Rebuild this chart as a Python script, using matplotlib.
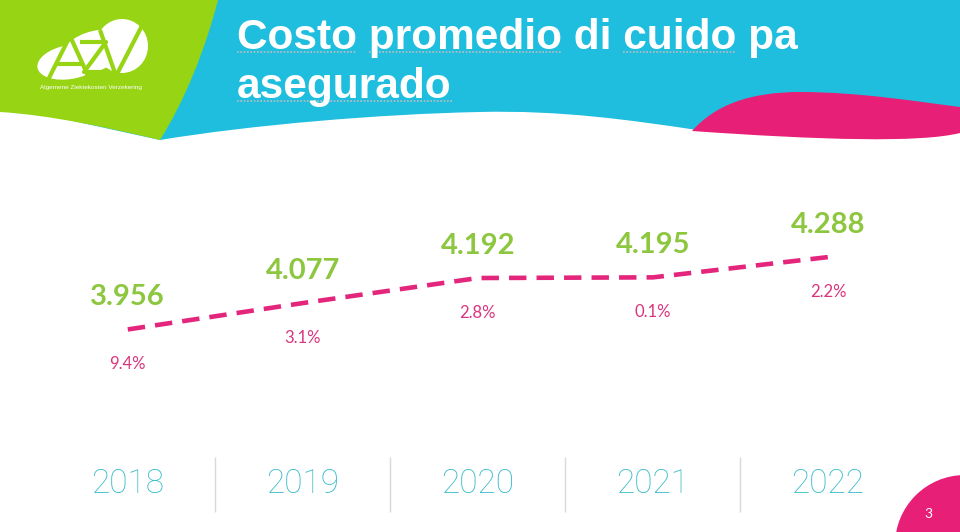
import matplotlib.pyplot as plt
from matplotlib.path import Path
from matplotlib.patches import PathPatch, Ellipse, Circle

# Data
years = [2018, 2019, 2020, 2021, 2022]
cost = [3956, 4077, 4192, 4195, 4288]
growth = [9.4, 3.1, 2.8, 0.1, 2.2]
title_lines = ["Costo promedio di cuido pa", "asegurado"]
underlined = ["Costo", "promedio", "cuido", "asegurado"]

GREEN = "#97d413"
CYAN = "#1fbedf"
PINK = "#e81f76"
LINE = "#e3267c"
VAL = "#8dc63f"
PCT = "#d9357f"
YEAR = "#38bcc9"

fig = plt.figure(figsize=(9.6, 5.32), dpi=100)

# background decoration in pixel coords
bg = fig.add_axes([0, 0, 1, 1])
bg.set_xlim(0, 960)
bg.set_ylim(532, 0)
bg.axis("off")

M, L, C, Z = Path.MOVETO, Path.LINETO, Path.CURVE4, Path.CLOSEPOLY

cyan_v = [(0, 0), (960, 0), (960, 125), (697, 130),
          (630, 120), (560, 110), (480, 112),
          (380, 114), (250, 125), (160, 140),
          (0, 105), (0, 0)]
cyan_c = [M, L, L, L, C, C, C, C, C, C, L, Z]
bg.add_patch(PathPatch(Path(cyan_v, cyan_c), fc=CYAN, ec="none"))

green_v = [(0, 0), (218, 0), (205, 50), (185, 100), (160, 140),
           (110, 128), (50, 115), (0, 112), (0, 0)]
green_c = [M, L, C, C, C, C, C, C, Z]
bg.add_patch(PathPatch(Path(green_v, green_c), fc=GREEN, ec="none"))

pink_v = [(692, 131), (715, 105), (750, 92), (800, 92),
          (860, 92), (920, 102), (960, 107), (960, 133),
          (920, 143), (820, 140), (692, 131), (692, 131)]
pink_c = [M, C, C, C, C, C, C, L, C, C, C, Z]
bg.add_patch(PathPatch(Path(pink_v, pink_c), fc=PINK, ec="none"))

# logo
bg.add_patch(Ellipse((70, 62), 66, 34, angle=-10, fc="white", ec="none"))
bg.add_patch(Ellipse((122, 46), 52, 54, fc="white", ec="none"))
bg.add_patch(Ellipse((92, 52), 70, 40, angle=-20, fc="white", ec="none"))
logo_strokes = [
    [(48, 80), (70, 36), (90, 80)],
    [(56, 64), (84, 64)],
    [(80, 42), (106, 42), (84, 72), (110, 72)],
    [(100, 30), (116, 76), (148, 14)],
]
for s in logo_strokes:
    xs, ys = zip(*s)
    bg.plot(xs, ys, color=GREEN, lw=3, solid_capstyle="butt")
bg.text(91, 88, "Algemene Ziektekosten Verzekering", color="white",
        fontsize=4.6, ha="center", va="center", family="Liberation Sans")

# page number
bg.add_patch(Circle((965, 545), 70, fc=PINK, ec="none"))
bg.text(928, 514, "3", color="white", fontsize=10, ha="center", va="center",
        family="Lato")

# title
fig.canvas.draw()
renderer = fig.canvas.get_renderer()
tkw = dict(color="white", fontsize=30.5, fontweight="bold",
           family="Liberation Sans")


def measure(s):
    t = bg.text(0, 0, s, **tkw)
    w = t.get_window_extent(renderer).width
    t.remove()
    return w


for line, base in zip(title_lines, [49, 98]):
    bg.text(237, base, line, ha="left", va="baseline", **tkw)
    pos = 0
    for word in line.split(" "):
        i = line.index(word, pos)
        pos = i + len(word)
        if word not in underlined:
            continue
        end = measure(line[:pos])
        start = end - measure(word)
        bg.plot([237 + start, 237 + end], [base + 2.5, base + 2.5],
                color="#bdbdbd", lw=1.2, ls=(0, (1, 1)))

# line chart
ax = fig.add_axes([0, 92 / 532, 1, 290 / 532])
ax.patch.set_alpha(0)
ax.set_xlim(2017.27, 2022.754)
ax.set_ylim(3448.6, 4779.5)
ax.axis("off")
ax.plot(years, cost, color=LINE, lw=3.3, ls=(0, (3.8, 2.2)))

for x, v, p in zip(years, cost, growth):
    ax.annotate(f"{v:,}".replace(",", "."), (x, v), xytext=(0, 32),
                textcoords="offset pixels", ha="center", va="center",
                color=VAL, fontsize=21, fontweight="bold", family="Lato")
    ax.annotate(f"{p}%", (x, v), xytext=(0, -35),
                textcoords="offset pixels", ha="center", va="center",
                color=PCT, fontsize=12, family="Lato")

# year footer
ft = fig.add_axes([0, 0, 1, 92 / 532])
ft.patch.set_alpha(0)
ft.set_xlim(ax.get_xlim())
ft.set_ylim(0, 1)
ft.axis("off")
for y in years:
    ft.text(y, 0.52, str(y), ha="center", va="center", color=YEAR,
            fontsize=24, fontweight="light", family="Roboto")
ft.vlines([y + 0.5 for y in years[:-1]], 0.217, 0.815, color="#d9d9d9", lw=1)

fig.savefig("out.png", dpi=100)
